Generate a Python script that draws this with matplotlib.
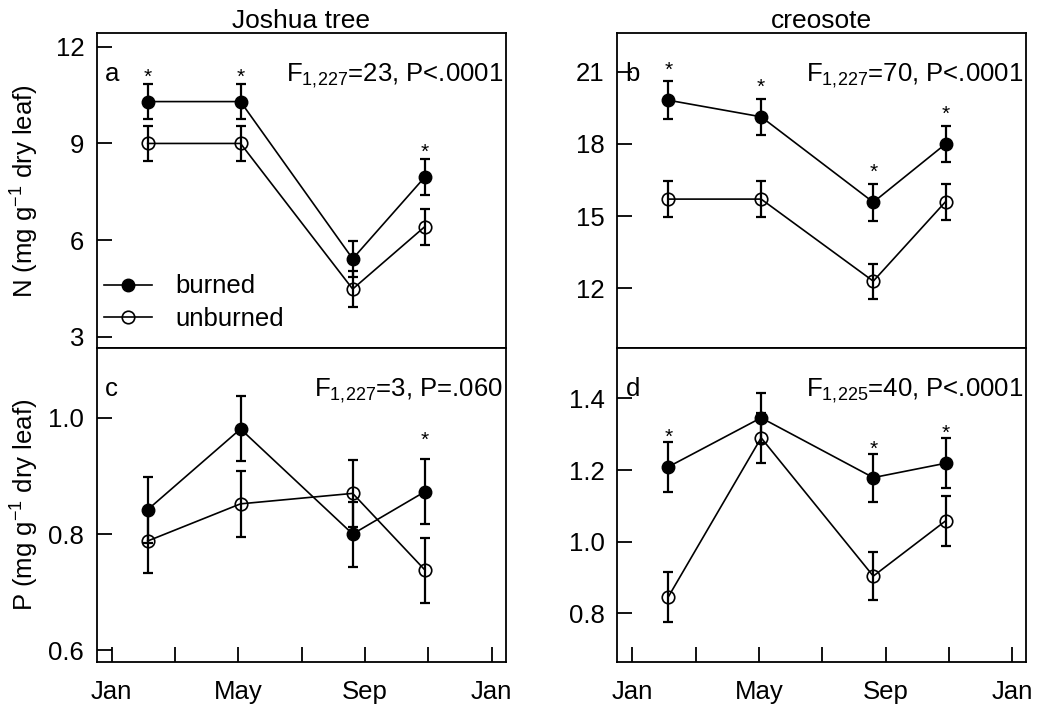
import matplotlib
matplotlib.use("Agg")
import matplotlib.pyplot as plt
from matplotlib.ticker import FormatStrFormatter

plt.rcParams['font.family'] = ['Liberation Sans', 'DejaVu Sans']
plt.rcParams['mathtext.default'] = 'regular'

# sampling dates, months since 1 Jan
months = [1.14, 4.07, 7.61, 9.89]
month_ticks = [0, 2, 4, 6, 8, 10, 12]
month_labels = ['Jan', '', 'May', '', 'Sep', '', 'Jan']

# a: Joshua tree, leaf N
jt_n_burned = [10.3, 10.3, 5.42, 7.96]
jt_n_burned_se = [0.55, 0.55, 0.56, 0.55]
jt_n_unburned = [9.0, 9.0, 4.48, 6.42]
jt_n_unburned_se = [0.55, 0.55, 0.57, 0.56]
jt_n_star = [1, 1, 0, 1]

# b: creosote, leaf N
cr_n_burned = [19.82, 19.13, 15.58, 18.0]
cr_n_burned_se = [0.78, 0.75, 0.77, 0.75]
cr_n_unburned = [15.71, 15.71, 12.3, 15.6]
cr_n_unburned_se = [0.75, 0.75, 0.73, 0.75]
cr_n_star = [1, 1, 1, 1]

# c: Joshua tree, leaf P
jt_p_burned = [0.842, 0.981, 0.800, 0.873]
jt_p_burned_se = [0.057, 0.056, 0.056, 0.056]
jt_p_unburned = [0.788, 0.852, 0.870, 0.738]
jt_p_unburned_se = [0.055, 0.057, 0.058, 0.056]
jt_p_star = [0, 0, 0, 1]

# d: creosote, leaf P
cr_p_burned = [1.209, 1.346, 1.179, 1.219]
cr_p_burned_se = [0.07, 0.07, 0.067, 0.07]
cr_p_unburned = [0.846, 1.29, 0.904, 1.058]
cr_p_unburned_se = [0.07, 0.07, 0.068, 0.07]
cr_p_star = [1, 0, 1, 1]

stats = [r'F$_{1{,}227}$=23, P<.0001', r'F$_{1{,}227}$=70, P<.0001',
         r'F$_{1{,}227}$=3, P=.060', r'F$_{1{,}225}$=40, P<.0001']
letters = ['a', 'b', 'c', 'd']

FS = 18.5
LW = 1.3

fig = plt.figure(figsize=(10.39, 7.15), dpi=100)
W, H = 1039, 715


def box(x0, x1, ytop, ybot):
    return [x0 / W, 1 - ybot / H, (x1 - x0) / W, (ybot - ytop) / H]


ax_a = fig.add_axes(box(96.7, 505.7, 33.3, 348.3))
ax_b = fig.add_axes(box(617.3, 1026.3, 33.3, 348.3))
ax_c = fig.add_axes(box(96.7, 505.7, 348.3, 661.7))
ax_d = fig.add_axes(box(617.3, 1026.3, 348.3, 661.7))

panels = [
    (ax_a, jt_n_burned, jt_n_burned_se, jt_n_unburned, jt_n_unburned_se, jt_n_star,
     (2.64, 12.42), [3, 6, 9, 12], '%d', 5.0),
    (ax_b, cr_n_burned, cr_n_burned_se, cr_n_unburned, cr_n_unburned_se, cr_n_star,
     (9.51, 22.6), [12, 15, 18, 21], '%d', 8.2),
    (ax_c, jt_p_burned, jt_p_burned_se, jt_p_unburned, jt_p_unburned_se, jt_p_star,
     (0.58, 1.12), [0.6, 0.8, 1.0], '%.1f', 13.2),
    (ax_d, cr_p_burned, cr_p_burned_se, cr_p_unburned, cr_p_unburned_se, cr_p_star,
     (0.665, 1.54), [0.8, 1.0, 1.2, 1.4], '%.1f', 3.2),
]

for i, (ax, b, bse, u, use, star, ylim, yt, fmt, gap) in enumerate(panels):
    ax.errorbar(months, b, yerr=bse, fmt='none', ecolor='black',
                elinewidth=1.6, capsize=3.5, capthick=1.6)
    ax.errorbar(months, u, yerr=use, fmt='none', ecolor='black',
                elinewidth=1.6, capsize=3.5, capthick=1.6)
    hb, = ax.plot(months, b, '-o', color='black', lw=1.2, ms=9,
                  label='burned')
    hu, = ax.plot(months, u, '-o', color='black', lw=1.2, ms=9,
                  mfc='none', mew=1.2, label='unburned')
    for xm, ym, se, s in zip(months, b, bse, star):
        if s:
            ax.annotate('*', (xm, ym + se), xytext=(0, gap),
                        textcoords='offset points', ha='center', va='center',
                        fontsize=15)

    ax.set_xlim(-0.47, 12.44)
    ax.set_ylim(*ylim)
    ax.set_yticks(yt)
    ax.yaxis.set_major_formatter(FormatStrFormatter(fmt))
    ax.set_xticks(month_ticks)
    ax.tick_params(direction='in', length=11, width=LW, labelsize=FS)
    ax.tick_params(axis='y', pad=9)
    ax.tick_params(axis='x', pad=13)
    if i < 2:
        ax.tick_params(axis='x', bottom=False, labelbottom=False)
    else:
        ax.set_xticklabels(month_labels)
    for sp in ax.spines.values():
        sp.set_linewidth(LW)

    ax.text(0.02, 0.848, letters[i], transform=ax.transAxes, fontsize=FS,
            ha='left', va='baseline')
    ax.text(0.993, 0.848, stats[i], transform=ax.transAxes, fontsize=FS,
            ha='right', va='baseline')

ax_a.set_title('Joshua tree', fontsize=19, pad=4)
ax_b.set_title('creosote', fontsize=19, pad=4)
ax_a.set_ylabel(r'N (mg g$^{-1}$ dry leaf)', fontsize=FS)
ax_c.set_ylabel(r'P (mg g$^{-1}$ dry leaf)', fontsize=FS)
ax_a.yaxis.set_label_coords(-0.135, 0.5)
ax_c.yaxis.set_label_coords(-0.135, 0.5)

ax_a.legend(handles=[hb, hu], loc='lower left', bbox_to_anchor=(0.017, 0.055),
            frameon=False, fontsize=FS, handlelength=1.9, handletextpad=0.9,
            labelspacing=0.33, borderaxespad=0, borderpad=0)

fig.savefig('out.png', dpi=100)
